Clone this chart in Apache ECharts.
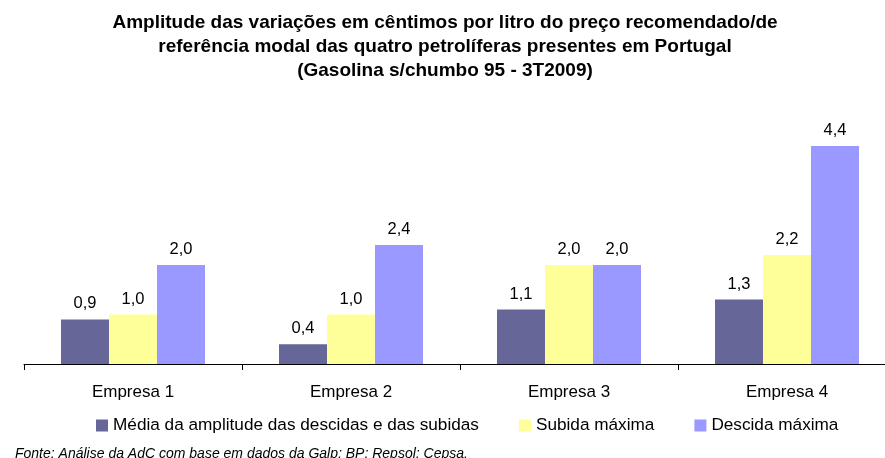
<!DOCTYPE html>
<html>
<head>
<meta charset="utf-8">
<script src="https://cdn.jsdelivr.net/npm/echarts@6/dist/echarts.min.js"></script>
<style>
  html, body { margin: 0; padding: 0; background: #fff; overflow: hidden; }
  #chart { width: 900px; height: 458px; }
</style>
</head>
<body>
<div id="chart"></div>
<script>
var categories = ['Empresa 1', 'Empresa 2', 'Empresa 3', 'Empresa 4'];
var seriesNames = ['Média da amplitude das descidas e das subidas', 'Subida máxima', 'Descida máxima'];
var mediaAmplitude = [0.9, 0.4, 1.1, 1.3];
var subidaMaxima = [1.0, 1.0, 2.0, 2.2];
var descidaMaxima = [2.0, 2.4, 2.0, 4.4];
var colors = ['#666699', '#FFFF99', '#9999FF'];

var font = '"Liberation Sans", Arial, sans-serif';

function makeSeries(name, data, color) {
    return {
        name: name,
        type: 'bar',
        data: data,
        barWidth: 48,
        barGap: '0%',
        itemStyle: { color: color },
        label: {
            show: true,
            position: 'top',
            distance: 7,
            fontFamily: font,
            fontSize: 16.5,
            color: '#000',
            formatter: function (p) { return p.value.toFixed(1).replace('.', ','); }
        }
    };
}

// the chart is a bit wider than the window so the last category runs off the edge
var chart = echarts.init(document.getElementById('chart'));
chart.setOption({
    animation: false,
    textStyle: { fontFamily: font },
    title: [
        {
            text: 'Amplitude das variações em cêntimos por litro do preço recomendado/de\nreferência modal das quatro petrolíferas presentes em Portugal\n(Gasolina s/chumbo 95 - 3T2009)',
            left: 440,
            textAlign: 'center',
            top: 6,
            textStyle: { fontFamily: font, fontSize: 19, fontWeight: 'bold', color: '#000', lineHeight: 24 }
        },
        {
            text: 'Fonte: Análise da AdC com base em dados da Galp; BP; Repsol; Cepsa.',
            left: 10,
            top: 442,
            textStyle: { fontFamily: font, fontSize: 14, fontStyle: 'italic', fontWeight: 'normal', color: '#000' }
        }
    ],
    legend: {
        data: seriesNames,
        top: 412,
        left: 91,
        itemWidth: 12,
        itemHeight: 12,
        itemGap: 40,
        icon: 'rect',
        textStyle: { fontFamily: font, fontSize: 17.2, color: '#000' }
    },
    grid: { left: 24, width: 872, top: 146, bottom: 94 },
    xAxis: {
        type: 'category',
        data: categories,
        axisLine: { lineStyle: { color: '#000', width: 1 } },
        axisTick: { show: true, length: 6, lineStyle: { color: '#000' } },
        axisLabel: { fontFamily: font, fontSize: 17, color: '#000', margin: 20 }
    },
    yAxis: {
        type: 'value',
        min: 0,
        max: 4.4,
        show: false,
        splitLine: { show: false }
    },
    series: [
        makeSeries(seriesNames[0], mediaAmplitude, colors[0]),
        makeSeries(seriesNames[1], subidaMaxima, colors[1]),
        makeSeries(seriesNames[2], descidaMaxima, colors[2])
    ]
});
</script>
</body>
</html>
